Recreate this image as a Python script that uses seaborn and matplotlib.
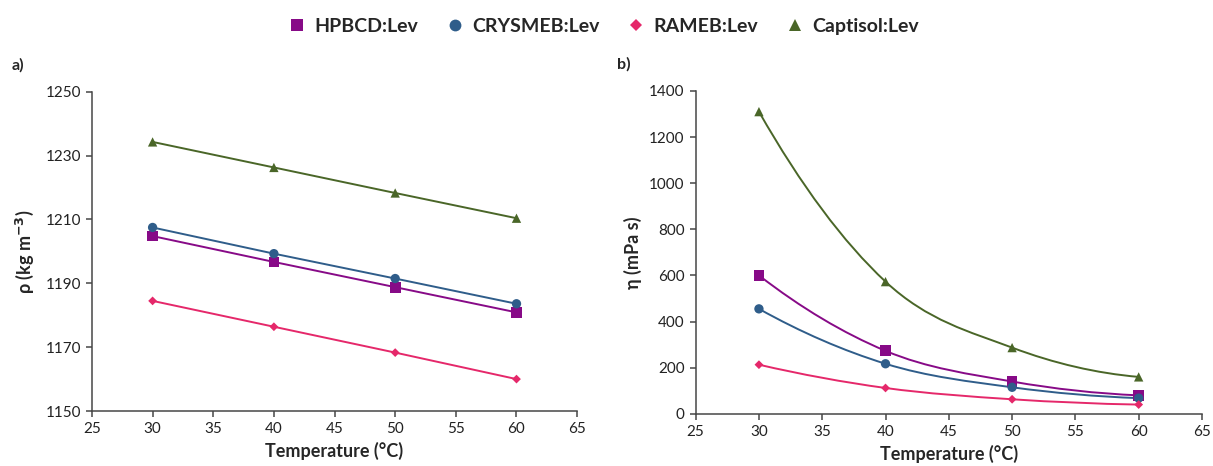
import numpy as np
import pandas as pd
import matplotlib
matplotlib.use("Agg")
import matplotlib.pyplot as plt
from matplotlib.path import Path
from matplotlib.patches import PathPatch
from matplotlib.lines import Line2D
import seaborn as sns

# === données ===
temperature = [30, 40, 50, 60]
series = ["HPBCD:Lev", "CRYSMEB:Lev", "RAMEB:Lev", "Captisol:Lev"]

rho_hpbcd = [1204.8, 1196.7, 1188.8, 1180.9]
rho_crysmeb = [1207.5, 1199.3, 1191.5, 1183.6]
rho_rameb = [1184.5, 1176.4, 1168.3, 1160.0]
rho_captisol = [1234.3, 1226.3, 1218.3, 1210.4]

eta_hpbcd = [600, 273, 140, 80]
eta_crysmeb = [455, 217, 115, 68]
eta_rameb = [213, 112, 63, 40]
eta_captisol = [1310, 573, 287, 160]

couleurs = {"HPBCD:Lev": "#870A87", "CRYSMEB:Lev": "#2F5D8A",
            "RAMEB:Lev": "#E5286A", "Captisol:Lev": "#4A6628"}
marqueurs = {"HPBCD:Lev": "s", "CRYSMEB:Lev": "o",
             "RAMEB:Lev": "D", "Captisol:Lev": "^"}
tailles = {"HPBCD:Lev": 60, "CRYSMEB:Lev": 45, "RAMEB:Lev": 20, "Captisol:Lev": 45}

df_rho = pd.DataFrame({
    "T": temperature * 4,
    "val": rho_hpbcd + rho_crysmeb + rho_rameb + rho_captisol,
    "serie": np.repeat(series, 4),
})
df_eta = pd.DataFrame({
    "T": temperature * 4,
    "val": eta_hpbcd + eta_crysmeb + eta_rameb + eta_captisol,
    "serie": np.repeat(series, 4),
})

sns.set_style("white")
plt.rcParams["font.family"] = ["Lato", "DejaVu Sans"]


def courbe_lisse(ax, x, y, couleur):
    # courbe lissée (Bézier cubique passant par les points, comme Excel)
    pts = np.column_stack([x, y]).astype(float)
    # points fantômes aux extrémités pour garder la courbure
    debut = 3 * pts[0] - 3 * pts[1] + pts[2]
    fin = 3 * pts[-1] - 3 * pts[-2] + pts[-3]
    ext = np.vstack([debut, pts, fin])
    verts = [pts[0]]
    codes = [Path.MOVETO]
    for i in range(1, len(ext) - 2):
        p0, p1, p2, p3 = ext[i - 1], ext[i], ext[i + 1], ext[i + 2]
        verts += [p1 + (p2 - p0) / 6, p2 - (p3 - p1) / 6, p2]
        codes += [Path.CURVE4] * 3
    ax.add_patch(PathPatch(Path(verts, codes), fill=False, edgecolor=couleur,
                           lw=1.4, zorder=2))


fig = plt.figure(figsize=(12.13, 4.66), dpi=100)
ax1 = fig.add_axes([0.0758, 0.118, 0.400, 0.685])
ax2 = fig.add_axes([0.5735, 0.112, 0.4174, 0.693])

# === a) masse volumique ===
for s in series:
    d = df_rho[df_rho["serie"] == s]
    sns.lineplot(data=d, x="T", y="val", ax=ax1, color=couleurs[s], lw=1.4,
                 legend=False, zorder=2)
    sns.scatterplot(data=d, x="T", y="val", ax=ax1, color=couleurs[s],
                    marker=marqueurs[s], s=tailles[s], edgecolor="none",
                    legend=False, zorder=3)

# === b) viscosité ===
for s in series:
    d = df_eta[df_eta["serie"] == s]
    courbe_lisse(ax2, d["T"].values, d["val"].values, couleurs[s])
    sns.scatterplot(data=d, x="T", y="val", ax=ax2, color=couleurs[s],
                    marker=marqueurs[s], s=tailles[s], edgecolor="none",
                    legend=False, zorder=3)

ax1.set_xlim(25, 65)
ax1.set_ylim(1150, 1250)
ax1.set_yticks(np.arange(1150, 1251, 20))
ax2.set_xlim(25, 65)
ax2.set_ylim(0, 1400)
ax2.set_yticks(np.arange(0, 1401, 200))

for ax in (ax1, ax2):
    ax.set_xticks(np.arange(25, 66, 5))
    sns.despine(ax=ax)
    for sp in ("left", "bottom"):
        ax.spines[sp].set_color("#474747")
        ax.spines[sp].set_linewidth(1.1)
    ax.tick_params(axis="both", direction="out", length=4, width=1.1,
                   color="#474747", labelsize=11, labelcolor="#222222",
                   bottom=True, left=True, pad=4)
    ax.set_xlabel("Temperature (°C)", fontsize=13, fontweight="bold",
                  labelpad=4)

ax1.set_ylabel("ρ (kg m$^{\\mathbf{-3}}$)", fontsize=13, fontweight="bold",
               labelpad=7)
ax2.set_ylabel("η (mPa s)", fontsize=13, fontweight="bold", labelpad=5)

fig.text(0.0099, 0.860, "a)", fontsize=11.5, fontweight="bold", va="center")
fig.text(0.5087, 0.863, "b)", fontsize=11.5, fontweight="bold", va="center")

poignees = [Line2D([], [], ls="none", marker=marqueurs[s], color=couleurs[s],
                   markersize=8.5 if s != "RAMEB:Lev" else 6,
                   markeredgewidth=0) for s in series]
fig.legend(poignees, series, loc="center", bbox_to_anchor=(0.497, 0.944),
           ncol=4, frameon=False, handlelength=1.0, handletextpad=0.38,
           columnspacing=1.4, prop={"weight": "bold", "size": 14})

fig.savefig("out.png", dpi=100)
